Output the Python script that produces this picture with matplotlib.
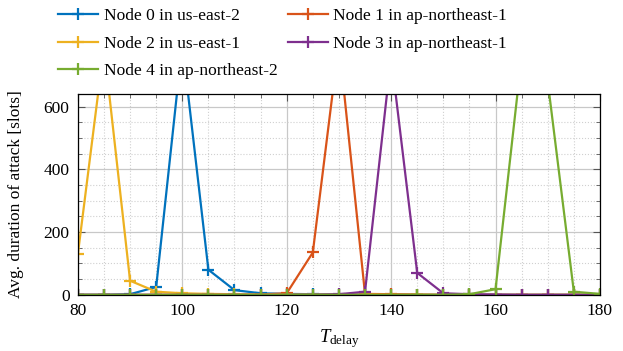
import matplotlib
matplotlib.use("Agg")
import matplotlib.pyplot as plt
from matplotlib.ticker import MultipleLocator

plt.rcParams['font.family'] = ['Liberation Serif', 'DejaVu Serif']
plt.rcParams['mathtext.fontset'] = 'custom'
plt.rcParams['mathtext.rm'] = 'Liberation Serif'
plt.rcParams['mathtext.it'] = 'Liberation Serif:italic'

# T_delay values
t_delay = [80, 85, 90, 95, 100, 105, 110, 115, 120, 125, 130,
           135, 140, 145, 150, 155, 160, 165, 170, 175, 180]

# average attack duration per node
node0 = [0, 0, 2, 25, 800, 80, 15, 5, 3, 2, 1, 1, 1, 0, 0, 0, 0, 0, 0, 0, 0]
node1 = [0, 0, 0, 0, 0, 0, 0, 1, 5, 135, 805, 3, 2, 1, 0, 0, 0, 0, 0, 0, 0]
node2 = [130, 790, 45, 10, 5, 3, 2, 1, 1, 1, 1, 1, 0, 0, 0, 0, 0, 0, 0, 0, 0]
node3 = [0, 0, 0, 0, 0, 0, 0, 0, 0, 0, 2, 10, 760, 70, 5, 2, 1, 0, 0, 0, 0]
node4 = [0, 0, 0, 0, 0, 0, 0, 0, 0, 0, 0, 0, 0, 0, 0, 2, 18, 760, 680, 10, 3]

series = [
    ("Node 0 in us-east-2", node0, "#0072BD"),
    ("Node 1 in ap-northeast-1", node1, "#D95319"),
    ("Node 2 in us-east-1", node2, "#EDB120"),
    ("Node 3 in ap-northeast-1", node3, "#7E2F8E"),
    ("Node 4 in ap-northeast-2", node4, "#77AC30"),
]

fig = plt.figure(figsize=(6.23, 3.51), dpi=100)
ax = fig.add_axes([0.125, 0.16, 0.838, 0.572])

lines = []
for label, vals, color in series:
    ln, = ax.plot(t_delay, vals, color=color, lw=1.6, marker='+', ms=8, mew=1.6, label=label)
    lines.append(ln)

ax.set_xlim(80, 180)
ax.set_ylim(0, 640)
ax.xaxis.set_major_locator(MultipleLocator(20))
ax.xaxis.set_minor_locator(MultipleLocator(5))
ax.yaxis.set_major_locator(MultipleLocator(200))
ax.yaxis.set_minor_locator(MultipleLocator(50))

ax.grid(which='major', color='#c8c8c8', lw=0.9, ls='-')
ax.grid(which='minor', color='#d0d0d0', lw=0.8, ls=':')
ax.set_axisbelow(True)
ax.tick_params(which='both', direction='in', top=True, right=True, labelsize=12.5, color='#555555')
ax.tick_params(which='major', length=5)
ax.tick_params(which='minor', length=3)
ax.tick_params(axis='x', pad=6)
ax.tick_params(axis='y', pad=6)
for s in ax.spines.values():
    s.set_linewidth(0.9)

ax.set_xlabel(r"$T_{\mathrm{delay}}$", fontsize=13.5, labelpad=6)
ax.set_ylabel("Avg. duration of attack [slots]", fontsize=12.5, labelpad=14)

# row-wise legend order
order = [0, 2, 4, 1, 3]
ax.legend([lines[i] for i in order], [series[i][0] for i in order],
          loc='lower left', bbox_to_anchor=(-0.054, 1.03), ncol=2, frameon=False,
          fontsize=12.5, handlelength=2.3, handletextpad=0.3, columnspacing=0.6,
          labelspacing=0.65, borderaxespad=0.1)

fig.savefig("out.png", dpi=100)
